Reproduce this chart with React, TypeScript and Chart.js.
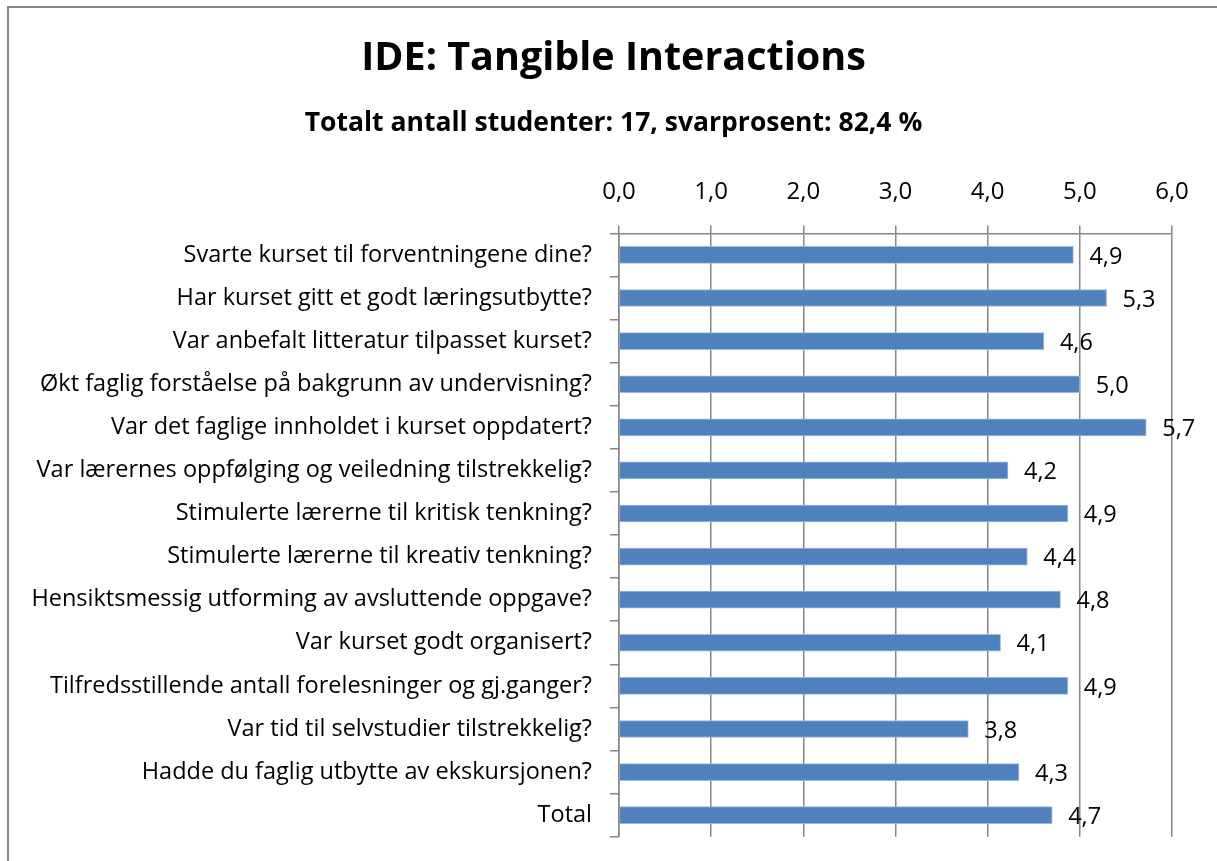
import React, { useEffect, useRef } from "react";
import { Chart, registerables } from "chart.js";

Chart.register(...registerables);

const TITLE = "IDE: Tangible Interactions";
const SUBTITLE = "Totalt antall studenter: 17, svarprosent: 82,4 %";

const categories: string[] = [
  "Svarte kurset til forventningene dine?",
  "Har kurset gitt et godt læringsutbytte?",
  "Var anbefalt litteratur tilpasset kurset?",
  "Økt faglig forståelse på bakgrunn av undervisning?",
  "Var det faglige innholdet i kurset oppdatert?",
  "Var lærernes oppfølging og veiledning tilstrekkelig?",
  "Stimulerte lærerne til kritisk tenkning?",
  "Stimulerte lærerne til kreativ tenkning?",
  "Hensiktsmessig utforming av avsluttende oppgave?",
  "Var kurset godt organisert?",
  "Tilfredsstillende antall forelesninger og gj.ganger?",
  "Var tid til selvstudier tilstrekkelig?",
  "Hadde du faglig utbytte av ekskursjonen?",
  "Total",
];

const values: number[] = [4.93, 5.29, 4.61, 5.0, 5.72, 4.22, 4.87, 4.43, 4.79, 4.14, 4.87, 3.79, 4.34, 4.7];

const X_MIN = 0;
const X_MAX = 6;
const X_STEP = 1;

const FONT = "'Open Sans', sans-serif";
const GRID = "#868686";

const fmt = (v: number) => v.toFixed(1).replace(".", ",");

const framePlugin = {
  id: "frame",
  beforeDraw(chart: any) {
    const ctx = chart.ctx;
    ctx.save();
    ctx.fillStyle = "#ffffff";
    ctx.fillRect(0, 0, chart.width, chart.height);
    ctx.strokeStyle = GRID;
    ctx.lineWidth = 2;
    ctx.beginPath();
    ctx.moveTo(8, chart.height);
    ctx.lineTo(8, 7);
    ctx.lineTo(chart.width, 7);
    ctx.stroke();
    ctx.restore();
  },
};

const titlePlugin = {
  id: "titles",
  afterDraw(chart: any) {
    const ctx = chart.ctx;
    ctx.save();
    ctx.fillStyle = "#000";
    ctx.textAlign = "center";
    ctx.textBaseline = "middle";
    ctx.font = `bold 39.5px ${FONT}`;
    ctx.fillText(TITLE, 613.5, 58.7);
    ctx.font = `bold 26.5px ${FONT}`;
    ctx.fillText(SUBTITLE, 613.5, 123.5);
    ctx.restore();
  },
};

const valueLabelPlugin = {
  id: "valueLabels",
  afterDatasetsDraw(chart: any) {
    const ctx = chart.ctx;
    const meta = chart.getDatasetMeta(0);
    ctx.save();
    ctx.font = `23.5px ${FONT}`;
    ctx.fillStyle = "#000";
    ctx.textAlign = "left";
    ctx.textBaseline = "middle";
    meta.data.forEach((el: any, i: number) => {
      ctx.fillText(fmt(values[i]), el.x + 16, el.y + 2);
    });
    ctx.restore();
  },
};

export default function App() {
  const ref = useRef<HTMLCanvasElement | null>(null);
  useEffect(() => {
    document.body.style.margin = "0";
    const canvas = ref.current!;
    const chart = new Chart(canvas, {
      type: "bar",
      data: {
        labels: categories,
        datasets: [
          {
            data: values,
            backgroundColor: "#4f81bd",
            borderColor: "#9db8dc",
            borderWidth: 1,
            barThickness: 17,
          },
        ],
      },
      options: {
        indexAxis: "y",
        animation: false,
        responsive: false,
        devicePixelRatio: 1,
        layout: { padding: { left: 0, right: 45, top: 139.4, bottom: 24.3 } },
        plugins: {
          legend: { display: false },
          tooltip: { enabled: false },
          title: { display: false },
          subtitle: { display: false },
        },
        scales: {
          x: {
            position: "top",
            min: X_MIN,
            max: X_MAX,
            ticks: {
              stepSize: X_STEP,
              color: "#000",
              font: { family: FONT, size: 24 },
              padding: 19,
              callback: (v: any) => fmt(Number(v)),
            },
            grid: {
              color: GRID,
              lineWidth: 1.5,
              tickLength: 8,
              drawOnChartArea: true,
            },
            border: { display: true, color: GRID, width: 1.5 },
            afterFit: (scale: any) => {
              scale.height = 94;
              scale.paddingLeft = 0;
              scale.paddingRight = 0;
            },
          },
          y: {
            ticks: {
              color: "#000",
              font: { family: FONT, size: 23.5 },
              padding: 18,
              autoSkip: false,
            },
            grid: {
              color: GRID,
              lineWidth: 1.5,
              tickLength: 9,
              drawOnChartArea: false,
              offset: true,
            },
            border: { display: true, color: GRID, width: 1.5 },
            afterFit: (scale: any) => {
              scale.width = 619;
              scale.paddingTop = 0;
              scale.paddingBottom = 0;
            },
          },
        },
      },
      plugins: [framePlugin, valueLabelPlugin, titlePlugin],
    } as any);
    return () => chart.destroy();
  }, []);
  return <canvas ref={ref} width={1217} height={861} style={{ display: "block" }} />;
}
